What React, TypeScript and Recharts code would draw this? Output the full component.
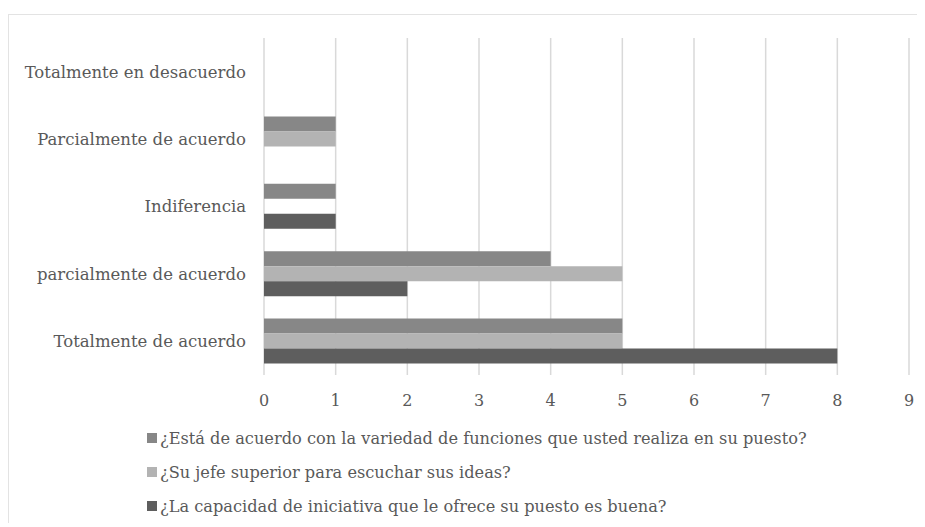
import React from 'react'
import { BarChart, Bar, XAxis, YAxis, CartesianGrid, Legend } from 'recharts'

const categories = [
  'Totalmente en desacuerdo',
  'Parcialmente de acuerdo',
  'Indiferencia',
  'parcialmente de acuerdo',
  'Totalmente de acuerdo',
]
const funciones = [0, 1, 1, 4, 5]
const jefe = [0, 1, 0, 5, 5]
const iniciativa = [0, 0, 1, 2, 8]
const xTicks = [0, 1, 2, 3, 4, 5, 6, 7, 8, 9]

const series = [
  { key: 'funciones', name: '¿Está de acuerdo con la variedad de funciones que usted realiza en su puesto?', color: '#878787' },
  { key: 'jefe', name: '¿Su jefe superior para escuchar sus ideas?', color: '#b3b3b3' },
  { key: 'iniciativa', name: '¿La capacidad de iniciativa que le ofrece su puesto es buena?', color: '#5e5e5e' },
]

const data = categories.map((c, i) => ({
  cat: c,
  funciones: funciones[i],
  jefe: jefe[i],
  iniciativa: iniciativa[i],
}))

const FONT = '"DejaVu Serif", serif'
const TEXT = '#595959'
const GRID = '#d9d9d9'

// legend as a plain vertical list, square swatch + question text
function LegendList() {
  return (
    <div style={{ paddingTop: 6, fontFamily: FONT, fontSize: 16.2, color: TEXT }}>
      {series.map(s => (
        <div key={s.key} style={{ height: 34, display: 'flex', alignItems: 'center', whiteSpace: 'nowrap' }}>
          <span style={{ display: 'inline-block', width: 10, height: 10, background: s.color, marginRight: 3 }} />
          {s.name}
        </div>
      ))}
    </div>
  )
}

export default function App() {
  return (
    <div style={{ paddingTop: 6 }}>
      <div style={{ borderTop: '1px solid #e3e3e3', borderLeft: '1px solid #e3e3e3', width: 916, height: 508 }}>
        <BarChart
          width={916}
          height={508}
          data={data}
          layout="vertical"
          margin={{ top: 23, right: 16, bottom: 0, left: 0 }}
          barSize={15}
          barGap={0}
        >
          <CartesianGrid horizontal={false} stroke={GRID} strokeWidth={1.5} />
          <XAxis
            type="number"
            domain={[0, 9]}
            ticks={xTicks}
            axisLine={false}
            tickLine={false}
            tickSize={7}
            tickMargin={13}
            height={40}
            tick={{ fontFamily: FONT, fontSize: 16, fill: TEXT }}
          />
          <YAxis
            type="category"
            dataKey="cat"
            width={255}
            axisLine={false}
            tickLine={false}
            tickSize={6}
            tickMargin={12}
            tick={{ fontFamily: FONT, fontSize: 16.5, fill: TEXT }}
          />
          <Legend
            layout="vertical"
            verticalAlign="bottom"
            align="center"
            wrapperStyle={{ left: 138, width: 770 }}
            content={() => <LegendList />}
          />
          {series.map(s => (
            <Bar key={s.key} dataKey={s.key} name={s.name} fill={s.color} isAnimationActive={false} />
          ))}
        </BarChart>
      </div>
    </div>
  )
}
